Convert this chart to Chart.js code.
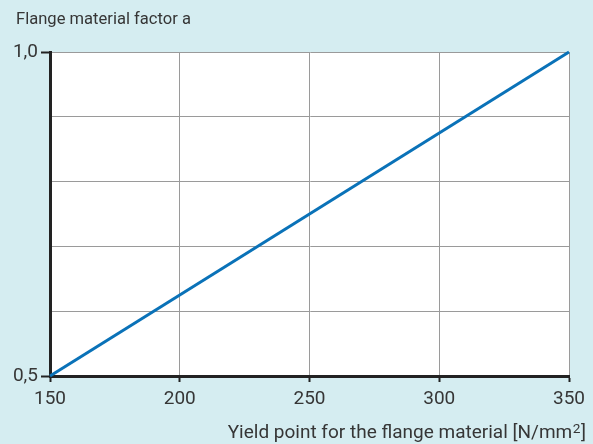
<!DOCTYPE html>
<html>
<head>
<meta charset="utf-8">
<script src="https://cdn.jsdelivr.net/npm/chart.js@4"></script>
<style>
  html, body { margin: 0; padding: 0; background: #d5edf1; }
  #wrap { width: 593px; height: 444px; position: relative; }
</style>
</head>
<body>
<div id="wrap"><canvas id="chart"></canvas></div>
<script>
// --- Data ---
const yieldPoints = [150, 350];
const factorValues = [0.5, 1.0];
const xTicks = [150, 200, 250, 300, 350];
const yLabels = { '0.5': '0,5', '1': '1,0' };
const yTitle = 'Flange material factor a';
const xTitleMain = 'Yield point for the flange material [N/mm';
const xTitleSup = '2';
const xTitleEnd = ']';

const FONT = 'Roboto';
const INK = '#363636';

// font size that makes a string span the given width
function fitSize(ctx, text, width) {
    ctx.font = '100px ' + FONT;
    return 100 * width / ctx.measureText(text).width;
}

// white plot area + axis titles
const decor = {
    id: 'decor',
    beforeDraw(chart) {
        const { ctx, chartArea: a } = chart;
        ctx.save();
        ctx.fillStyle = '#ffffff';
        ctx.fillRect(a.left, a.top, a.right - a.left, a.bottom - a.top);
        ctx.restore();
    },
    afterDraw(chart) {
        const { ctx } = chart;
        ctx.save();
        ctx.fillStyle = INK;
        ctx.textBaseline = 'alphabetic';
        ctx.textAlign = 'left';
        const s1 = Math.min(19, fitSize(ctx, yTitle, 175));
        ctx.font = s1 + 'px ' + FONT;
        ctx.fillText(yTitle, 16, 24);

        // x title, right aligned, with a raised "2"
        const s2 = Math.min(19, fitSize(ctx, xTitleMain + xTitleEnd, 352));
        const big = s2 + 'px ' + FONT, small = (s2 * 0.72) + 'px ' + FONT;
        ctx.font = big;
        const wMain = ctx.measureText(xTitleMain).width;
        const wEnd = ctx.measureText(xTitleEnd).width;
        ctx.font = small;
        const wSup = ctx.measureText(xTitleSup).width;
        let x = 586 - wMain - wSup - wEnd - 1;
        const base = 438;
        ctx.font = big;
        ctx.fillText(xTitleMain, x, base);
        x += wMain + 0.5;
        ctx.font = small;
        ctx.fillText(xTitleSup, x, base - 5);
        x += wSup + 0.5;
        ctx.font = big;
        ctx.fillText(xTitleEnd, x, base);
        ctx.restore();
    }
};

new Chart(document.getElementById('chart'), {
    type: 'line',
    data: {
        datasets: [{
            data: yieldPoints.map((x, i) => ({ x, y: factorValues[i] })),
            borderColor: '#0a72b8',
            borderWidth: 3,
            pointRadius: 0,
            clip: false
        }]
    },
    plugins: [decor],
    options: {
        responsive: true,
        maintainAspectRatio: false,
        animation: false,
        layout: { padding: { top: 52, right: 24, left: 0, bottom: 0 } },
        plugins: { legend: { display: false }, tooltip: { enabled: false } },
        scales: {
            x: {
                type: 'linear',
                min: 150, max: 350,
                afterBuildTicks: s => { s.ticks = xTicks.map(v => ({ value: v })); },
                afterFit: s => { s.height = 68; },
                border: { color: '#222222', width: 3 },
                grid: { color: '#9a9a9a', lineWidth: 1, tickLength: 6, tickColor: '#222222', tickWidth: 2 },
                ticks: { color: INK, font: { family: FONT, size: 19 }, padding: 6 }
            },
            y: {
                min: 0.5, max: 1.0,
                afterBuildTicks: s => { s.ticks = [0.5, 0.6, 0.7, 0.8, 0.9, 1.0].map(v => ({ value: v })); },
                afterFit: s => { s.width = 50; },
                border: { color: '#222222', width: 3 },
                grid: {
                    color: '#9a9a9a', lineWidth: 1, tickLength: 9, tickWidth: 2,
                    tickColor: c => (c.tick && yLabels[String(+c.tick.value.toFixed(2))]) ? '#222222' : 'rgba(0,0,0,0)'
                },
                ticks: {
                    color: INK, font: { family: FONT, size: 19 }, padding: 3,
                    callback: v => yLabels[String(+v.toFixed(2))] || ''
                }
            }
        }
    }
});
</script>
</body>
</html>
